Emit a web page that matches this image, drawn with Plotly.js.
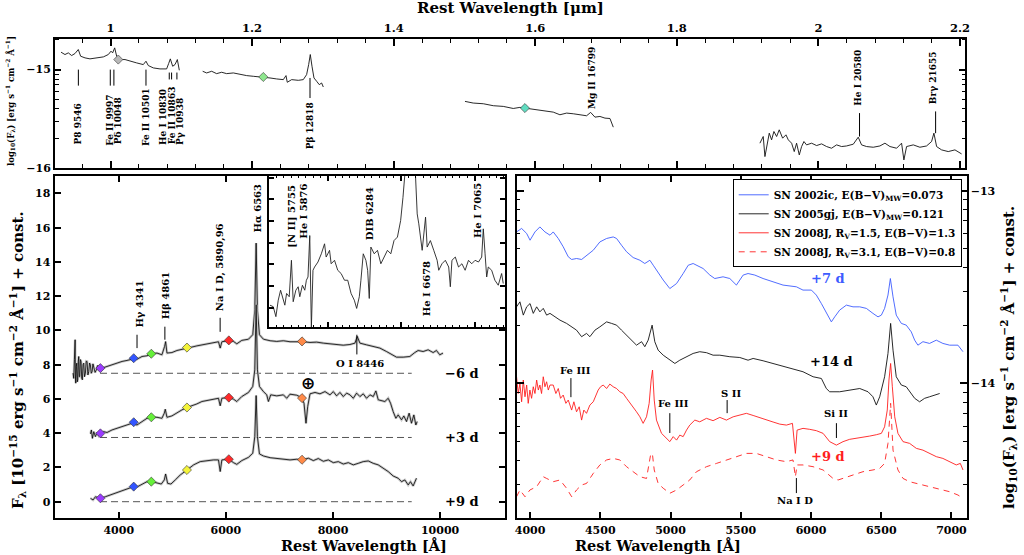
<!DOCTYPE html>
<html><head><meta charset="utf-8">
<script src="https://cdn.plot.ly/plotly-3.0.1.min.js"></script>
<style>html,body{margin:0;padding:0;background:#fff}#chart{width:1024px;height:555px}</style>
</head><body><div id="chart"></div>
<script>
// ================= DATA =================
// --- NIR spectrum (top panel), wavelength in micron, log10 flux ---
const nirWave1 = [0.9301,0.9357,0.9404,0.9451,0.9498,0.9545,0.9578,0.9640,0.9710,0.9804,0.9899,0.9969,1.0007,1.0030,1.0059,1.0087,1.0134,1.0205,1.0275,1.0369,1.0463,1.0501,1.0534,1.0605,1.0699,1.0793,1.0821,1.0845,1.0878,1.0911,1.0944,1.0972];
const nirLogF1 = [-14.823,-14.847,-14.830,-14.857,-14.837,-14.796,-14.864,-14.881,-14.891,-14.884,-14.871,-14.847,-14.813,-14.830,-14.779,-14.864,-14.898,-14.898,-14.915,-14.932,-14.949,-14.915,-14.959,-14.983,-14.993,-14.993,-14.939,-14.891,-14.966,-14.949,-14.898,-15.007];
const nirWave2 = [1.1302,1.1358,1.1429,1.1499,1.1570,1.1640,1.1735,1.1829,1.1923,1.2017,1.2158,1.2253,1.2347,1.2441,1.2479,1.2497,1.2559,1.2653,1.2723,1.2770,1.2799,1.2822,1.2846,1.2874,1.2912,1.2949,1.2982,1.3006];
const nirLogF2 = [-15.017,-15.034,-15.017,-15.041,-15.027,-15.041,-15.034,-15.051,-15.061,-15.068,-15.075,-15.085,-15.095,-15.102,-15.061,-15.129,-15.102,-15.109,-15.102,-15.051,-14.949,-14.847,-14.966,-15.085,-15.119,-15.153,-15.136,-15.177];
const nirWave3 = [1.5007,1.5124,1.5266,1.5407,1.5548,1.5595,1.5689,1.5783,1.5854,1.5972,1.6113,1.6254,1.6348,1.6443,1.6537,1.6631,1.6725,1.6782,1.6843,1.6913,1.6984,1.7055,1.7102];
const nirLogF3 = [-15.323,-15.340,-15.347,-15.367,-15.374,-15.381,-15.395,-15.384,-15.391,-15.408,-15.418,-15.432,-15.459,-15.442,-15.449,-15.459,-15.469,-15.435,-15.483,-15.476,-15.493,-15.497,-15.585];
const nirWave4 = [1.9173,1.9220,1.9244,1.9267,1.9305,1.9338,1.9371,1.9409,1.9446,1.9494,1.9541,1.9574,1.9621,1.9658,1.9691,1.9729,1.9762,1.9795,1.9832,1.9903,1.9974,2.0044,2.0115,2.0185,2.0256,2.0327,2.0397,2.0492,2.0529,2.0562,2.0609,2.0680,2.0774,2.0868,2.0939,2.1010,2.1104,2.1174,2.1207,2.1245,2.1339,2.1433,2.1527,2.1598,2.1631,2.1669,2.1739,2.1833,2.1928,2.2022];
const nirLogF4 = [-15.748,-15.680,-15.884,-15.782,-15.646,-15.714,-15.629,-15.680,-15.612,-15.697,-15.663,-15.714,-15.748,-15.833,-15.748,-15.867,-15.782,-15.731,-15.765,-15.748,-15.772,-15.755,-15.782,-15.799,-15.765,-15.782,-15.776,-15.758,-15.714,-15.687,-15.765,-15.782,-15.789,-15.776,-15.748,-15.782,-15.799,-15.748,-15.918,-15.782,-15.765,-15.789,-15.776,-15.731,-15.646,-15.782,-15.816,-15.833,-15.816,-15.857];
const nirPhotWave = [1.0110, 1.2158, 1.5854];
const nirPhotLogF = [-14.898, -15.075, -15.391];
const nirPhotColor = ['#b8b8b8', '#8fe88f', '#5fdcc0'];
const nirLineText = ['P8 9546','Fe II 9997','Pδ 10048','Fe II 10501','He I 10830','Fe II 10863','Pγ 10938','Pβ 12818','Mg II 16799','He I 20580','Brγ 21655'];
const nirMarkWave = [0.9546, 0.9997, 1.0048, 1.0501, 1.0830, 1.0863, 1.0938, 1.2818, 2.0580, 2.1655];

// --- Optical spectra (left panel), Angstrom, flux + offset ---
const m6Wave = [3147,3160,3172,3185,3190,3197,3207,3216,3225,3234,3244,3253,3262,3272,3284,3296,3308,3321,3333,3346,3360,3377,3392,3408,3424,3439,3455,3470,3486,3502,3518,3533,3558,3582,3604,3626,3657,3688,3781,3874,3968,4061,4154,4247,4340,4434,4527,4620,4713,4806,4856,4875,4900,4993,5086,5179,5272,5365,5459,5552,5645,5769,5862,5894,5925,6049,6142,6204,6297,6422,6502,6540,6565,6589,6627,6701,6826,6950,7074,7198,7323,7447,7571,7695,7820,7944,8068,8192,8317,8410,8453,8503,8627,8752,8876,9000,9093,9186,9311,9435,9528,9590,9684,9777,9870,9932,9994,10056];
const m6Flux = [7.51,7.2,8.29,9.46,7.4,6.92,7.9,8.09,7.0,7.12,8.2,8.48,7.3,7.31,8.3,8.19,7.2,7.12,8.0,8.09,7.3,7.51,8.2,8.19,7.4,7.6,8.1,7.99,7.5,7.6,8.05,7.9,7.55,7.7,7.95,7.86,7.7,7.8,7.9,7.99,8.09,8.19,8.25,8.32,8.32,8.48,8.52,8.64,8.68,8.58,9.07,9.35,8.68,8.71,8.83,8.91,8.97,9.03,9.1,9.16,9.22,9.3,9.34,8.97,9.34,9.4,9.36,9.22,9.42,9.49,9.75,11.2,15.1,11.2,9.75,9.49,9.4,9.36,9.4,9.34,9.36,9.34,9.3,9.32,9.26,9.22,9.16,9.14,9.18,9.26,9.65,9.26,9.16,9.07,8.97,8.77,8.58,8.44,8.44,8.48,8.71,8.83,8.77,8.87,8.71,8.83,8.58,8.68];
const p3Wave = [3471,3489,3508,3533,3564,3595,3626,3657,3719,3781,3874,3968,4061,4154,4247,4340,4434,4527,4620,4713,4806,4850,4868,4900,4993,5086,5179,5272,5365,5459,5552,5645,5769,5862,5894,5925,6049,6142,6204,6297,6422,6502,6540,6565,6589,6627,6701,6763,6794,6838,6950,7074,7136,7198,7323,7416,7459,7496,7528,7571,7664,7757,7851,7944,8006,8068,8130,8192,8255,8317,8379,8441,8503,8565,8627,8690,8752,8801,8845,8907,8969,9031,9075,9124,9174,9217,9280,9323,9373,9422,9466,9510,9547,9572];
const p3Flux = [3.96,4.19,3.7,4.09,3.8,4.04,3.84,3.96,4.09,4.04,4.19,4.29,4.39,4.48,4.58,4.48,4.68,4.87,4.93,4.93,4.87,5.17,5.4,4.93,5.01,5.21,5.36,5.5,5.6,5.71,5.85,5.91,5.99,6.04,5.6,6.04,6.08,5.99,5.85,6.14,6.38,6.73,7.7,11.5,7.7,6.73,6.43,6.24,5.85,6.24,6.18,6.24,6.04,6.28,6.22,6.08,5.75,4.58,5.56,6.3,6.38,6.3,6.43,6.24,6.43,6.18,6.38,6.14,6.34,6.24,6.04,6.34,6.14,6.3,6.04,6.24,6.14,6.47,5.95,5.91,5.85,6.04,5.75,5.26,4.87,5.07,4.78,5.01,4.68,5.17,4.58,5.07,4.48,4.68];
const p9Wave = [3471,3520,3564,3657,3750,3843,3936,4030,4123,4216,4278,4352,4434,4527,4620,4713,4794,4850,4875,4912,4974,5055,5148,5272,5397,5521,5645,5769,5862,5894,5925,6055,6142,6204,6297,6422,6502,6540,6565,6589,6627,6701,6826,6950,7074,7198,7323,7428,7540,7633,7726,7820,7913,8006,8099,8192,8286,8379,8472,8565,8658,8752,8845,8938,9031,9124,9217,9280,9342,9404,9447,9497,9528,9559];
const p9Flux = [0.2,0.1,0.29,0.2,0.29,0.39,0.49,0.59,0.72,0.82,0.88,0.88,1.03,1.17,1.17,1.11,1.03,1.27,1.62,1.07,1.03,1.27,1.56,1.85,2.15,2.34,2.4,2.44,2.44,1.76,2.44,2.48,2.28,2.18,2.4,2.59,2.83,3.8,6.2,3.8,2.79,2.67,2.57,2.54,2.48,2.44,2.48,2.44,2.54,2.4,2.52,2.36,2.44,2.28,2.34,2.2,2.28,2.15,2.24,2.34,2.38,2.24,2.15,1.95,1.76,1.5,1.37,1.17,1.27,0.98,1.17,0.92,1.17,1.37];
const photWave = [3657, 4279, 4608, 5273, 6055, 7422];
const photFluxM6 = [7.8, 8.38, 8.64, 9.0, 9.42, 9.36];
const photFluxP3 = [3.99, 4.64, 4.93, 5.5, 6.08, 6.05];
const photFluxP9 = [0.2, 0.88, 1.17, 1.85, 2.48, 2.45];
const photColors = ['#9a3cff', '#3355ff', '#66f03a', '#f4f43a', '#ff2a2a', '#ff8a48'];
const epochOffsets = [7.5, 3.75, 0];
const epochLabels = ['−6 d', '+3 d', '+9 d'];
const optTickVals = [4000, 6000, 8000, 10000];
const optTickText = ['4000', '6000', '8000', '10000'];
const optLineText = ['Hγ 4341', 'Hβ 4861', 'Na I D, 5890,96', 'Hα 6563'];
const optMarkWave = [4341, 4861, 5893, 8446];

// --- Inset (zoom around Halpha of -6 d spectrum) ---
const insetWave = [5605,5627,5645,5661,5677,5695,5706,5718,5736,5751,5763,5781,5797,5808,5826,5842,5853,5864,5876,5887,5898,5909,5932,5955,5977,5988,6011,6022,6045,6067,6090,6113,6135,6158,6180,6196,6214,6225,6241,6259,6271,6282,6293,6316,6338,6361,6383,6406,6429,6451,6474,6496,6512,6526,6541,6564,6587,6598,6609,6620,6643,6654,6666,6677,6699,6722,6745,6756,6778,6801,6824,6835,6846,6869,6891,6914,6936,6959,6981,7004,7027,7049,7060,7072,7083,7094,7117,7139,7162,7185,7196];
const insetFlux = [0.12,0.05,-0.41,0.35,0.81,0.35,0.12,0.66,0.51,2.19,0.28,0.81,0.97,0.51,1.04,0.81,1.27,1.42,3.33,-0.95,1.73,1.88,2.11,2.49,2.95,2.34,2.65,2.03,2.19,1.73,1.58,1.27,1.27,0.66,0.35,-0.03,0.51,1.27,2.49,2.19,1.73,0.43,2.80,2.49,2.65,2.03,2.34,2.65,2.49,3.10,3.26,4.02,5.09,6.01,6.93,9.4,6.93,6.01,4.33,3.87,2.65,3.26,4.18,2.80,3.10,2.65,2.19,1.73,2.03,2.19,1.88,0.97,2.19,2.34,1.88,2.03,1.73,2.19,2.03,2.19,2.11,2.34,3.64,2.49,1.42,1.88,1.73,1.27,1.04,1.58,1.12];
const insetLineText = ['[N II] 5755', 'He I 5876', 'DIB 6284', 'He I 6678', 'He I 7065'];
const insetLineWave = [5755, 5876, 6284, 6678, 7065];

// --- Comparison spectra (right panel), log10 flux + const ---
const ic02Wave = [3904,3940,3976,4000,4035,4070,4106,4142,4165,4201,4236,4272,4296,4331,4367,4402,4450,4497,4545,4592,4616,4651,4687,4734,4782,4817,4853,4877,4900,4948,4995,5043,5090,5126,5161,5208,5232,5280,5315,5374,5422,5469,5517,5552,5600,5659,5730,5801,5896,5943,6003,6038,6074,6109,6145,6169,6204,6252,6299,6347,6394,6441,6477,6501,6524,6548,6565,6584,6607,6643,6678,6714,6738,6761,6797,6844,6892,6939,6987,7046,7082];
const ic02LogF = [-13.213,-13.195,-13.221,-13.256,-13.213,-13.187,-13.213,-13.230,-13.213,-13.247,-13.290,-13.342,-13.356,-13.351,-13.356,-13.334,-13.308,-13.265,-13.247,-13.239,-13.247,-13.282,-13.316,-13.346,-13.360,-13.377,-13.360,-13.386,-13.412,-13.463,-13.507,-13.481,-13.429,-13.386,-13.377,-13.394,-13.403,-13.437,-13.455,-13.446,-13.455,-13.489,-13.437,-13.429,-13.437,-13.455,-13.472,-13.489,-13.498,-13.515,-13.515,-13.541,-13.585,-13.636,-13.680,-13.654,-13.619,-13.593,-13.602,-13.602,-13.610,-13.636,-13.654,-13.645,-13.610,-13.541,-13.455,-13.550,-13.645,-13.688,-13.697,-13.732,-13.775,-13.801,-13.783,-13.792,-13.775,-13.792,-13.801,-13.801,-13.835];
const gj05Wave = [3904,3928,3952,3976,4000,4023,4047,4070,4094,4118,4142,4177,4213,4260,4296,4331,4367,4402,4426,4462,4497,4545,4580,4616,4651,4687,4722,4758,4794,4817,4841,4869,4888,4912,4948,4995,5031,5066,5114,5161,5208,5256,5303,5351,5422,5493,5552,5588,5659,5730,5801,5872,5943,6015,6074,6109,6133,6204,6275,6347,6406,6441,6465,6489,6524,6548,6567,6584,6607,6643,6678,6702,6738,6773,6809,6844,6880,6916];
const gj05LogF = [-13.602,-13.576,-13.645,-13.602,-13.585,-13.636,-13.602,-13.628,-13.610,-13.645,-13.636,-13.654,-13.671,-13.688,-13.706,-13.723,-13.757,-13.740,-13.757,-13.723,-13.706,-13.680,-13.688,-13.697,-13.723,-13.749,-13.775,-13.801,-13.783,-13.809,-13.775,-13.697,-13.783,-13.827,-13.853,-13.879,-13.896,-13.879,-13.861,-13.844,-13.835,-13.840,-13.853,-13.853,-13.861,-13.865,-13.879,-13.870,-13.882,-13.896,-13.913,-13.927,-13.939,-13.965,-13.974,-14.026,-14.043,-14.043,-14.034,-14.026,-14.043,-14.069,-14.112,-14.069,-13.965,-13.844,-13.688,-13.827,-13.965,-14.008,-14.017,-14.043,-14.077,-14.095,-14.077,-14.069,-14.060,-14.052];
const j08aWave = [3904,3916,3928,3940,3952,3964,3976,3987,3999,4011,4023,4035,4047,4059,4070,4082,4094,4106,4118,4130,4142,4165,4184,4201,4217,4236,4255,4272,4296,4312,4331,4350,4367,4383,4402,4426,4450,4469,4485,4502,4521,4545,4568,4592,4616,4639,4663,4687,4711,4734,4758,4782,4805,4829,4848,4862,4872,4884,4900,4936,4971,4995,5019,5043,5066,5090,5114,5137,5173,5208,5256,5303,5351,5398,5446,5493,5540,5588,5635,5683,5730,5778,5825,5868,5879,5889,5901,5943,5991,6038,6086,6133,6181,6228,6275,6323,6370,6418,6465,6501,6524,6543,6555,6567,6579,6596,6619,6655,6702,6750,6797,6844,6892,6939,6987,7034,7063,7082];
const j08aLogF = [-13.965,-14.052,-14.000,-14.095,-13.982,-14.069,-14.008,-14.103,-14.034,-14.077,-14.017,-14.052,-13.982,-14.034,-14.008,-14.052,-13.965,-14.017,-13.991,-14.034,-14.008,-14.008,-14.052,-14.026,-14.077,-14.060,-14.103,-14.086,-14.138,-14.095,-14.147,-14.121,-14.190,-14.138,-14.155,-14.112,-14.095,-14.060,-14.034,-14.017,-14.008,-14.026,-14.003,-14.017,-14.026,-14.043,-14.052,-14.077,-14.103,-14.121,-14.147,-14.173,-14.207,-14.173,-14.103,-13.982,-13.930,-14.086,-14.190,-14.259,-14.285,-14.302,-14.276,-14.294,-14.268,-14.276,-14.242,-14.216,-14.190,-14.199,-14.181,-14.193,-14.176,-14.190,-14.173,-14.164,-14.155,-14.166,-14.176,-14.190,-14.200,-14.211,-14.216,-14.207,-14.276,-14.363,-14.242,-14.233,-14.238,-14.245,-14.259,-14.302,-14.320,-14.302,-14.290,-14.285,-14.280,-14.273,-14.266,-14.259,-14.225,-14.138,-13.982,-13.896,-14.017,-14.173,-14.259,-14.302,-14.311,-14.337,-14.346,-14.363,-14.380,-14.389,-14.406,-14.423,-14.415,-14.449];
const j08bWave = [3904,3928,3964,3999,4047,4094,4118,4165,4213,4260,4296,4331,4367,4402,4450,4497,4545,4592,4639,4687,4734,4782,4829,4848,4860,4872,4884,4912,4948,4995,5043,5090,5137,5185,5256,5327,5398,5469,5540,5611,5683,5754,5825,5872,5889,5901,5943,6015,6086,6157,6193,6228,6299,6370,6441,6489,6524,6548,6567,6584,6619,6655,6702,6797,6892,6987,7046,7082];
const j08bLogF = [-14.588,-14.553,-14.588,-14.553,-14.536,-14.484,-14.493,-14.510,-14.501,-14.544,-14.588,-14.553,-14.527,-14.519,-14.467,-14.423,-14.397,-14.389,-14.397,-14.432,-14.458,-14.484,-14.493,-14.423,-14.363,-14.372,-14.449,-14.519,-14.544,-14.570,-14.553,-14.527,-14.501,-14.458,-14.432,-14.415,-14.397,-14.380,-14.363,-14.363,-14.380,-14.397,-14.406,-14.397,-14.484,-14.423,-14.423,-14.432,-14.449,-14.493,-14.501,-14.493,-14.475,-14.458,-14.449,-14.441,-14.415,-14.311,-14.103,-14.346,-14.449,-14.493,-14.510,-14.527,-14.544,-14.562,-14.579,-14.596];
const compNames = ['SN 2002ic, E(B−V)<sub>MW</sub>=0.073', 'SN 2005gj, E(B−V)<sub>MW</sub>=0.121', 'SN 2008J, R<sub>V</sub>=1.5, E(B−V)=1.3', 'SN 2008J, R<sub>V</sub>=3.1, E(B−V)=0.8'];
const compEpochs = ['+7 d', '+14 d', '+9 d'];
const compLineText = ['Fe III', 'Fe III', 'S II', 'Si II', 'Na I D'];
const compMarkWave = [4291, 4995, 5403, 6181, 5896];

// ================= STYLE / BUILD =================
const FAM = 'DejaVu Serif, Liberation Serif, serif';
function F(size, color) { return {family: FAM, size: size, color: color || 'black', weight: 'bold'}; }
const BLUE = '#3d5cff', RED = '#ff1e1e';

function line(x, y, xa, ya, color, width, extra) {
  return Object.assign({type: 'scatter', mode: 'lines', x: x, y: y, xaxis: xa, yaxis: ya,
    line: {color: color, width: width}, showlegend: false, hoverinfo: 'skip'}, extra || {});
}
function marks(waves, y0, y1, xa, ya) {
  const x = [], y = [];
  waves.forEach((w, i) => { x.push(w, w, null); y.push(y0[i], y1[i], null); });
  return line(x, y, xa, ya, 'black', 1);
}
function diamonds(x, y, colors, xa, ya) {
  return {type: 'scatter', mode: 'markers', x: x, y: y, xaxis: xa, yaxis: ya, showlegend: false, hoverinfo: 'skip',
    marker: {symbol: 'diamond', size: 7, color: colors, line: {color: '#333', width: 0.6}}};
}

const traces = [];
// top panel
[[nirWave1, nirLogF1], [nirWave2, nirLogF2], [nirWave3, nirLogF3], [nirWave4, nirLogF4]].forEach(s => {
  traces.push(line(s[0], s[1], 'x', 'y', '#111', 0.9));
});
traces.push(marks(nirMarkWave,
  [-15.0, -15.0, -15.0, -15.0, -15.03, -15.03, -15.03, -15.085, -15.442, -15.425],
  [-15.163, -15.163, -15.163, -15.163, -15.10, -15.10, -15.10, -15.289, -15.680, -15.646], 'x', 'y'));
traces.push(diamonds(nirPhotWave, nirPhotLogF, nirPhotColor, 'x', 'y'));

// left panel
epochOffsets.forEach(o => {
  traces.push(line([3650, 9470], [o, o], 'x2', 'y2', '#555', 1, {line: {color: '#555', width: 1, dash: '7px,4px'}}));
});
[[m6Wave, m6Flux], [p3Wave, p3Flux], [p9Wave, p9Flux]].forEach(s => {
  traces.push(line(s[0], s[1], 'x2', 'y2', '#cacaca', 2.6));
  traces.push(line(s[0], s[1], 'x2', 'y2', '#000', 0.8));
});
traces.push(marks(optMarkWave, [8.97, 9.46, 9.92, 8.6], [9.75, 10.22, 10.74, 9.75], 'x2', 'y2'));
[photFluxM6, photFluxP3, photFluxP9].forEach(f => traces.push(diamonds(photWave, f, photColors, 'x2', 'y2')));

// inset
traces.push(line(insetWave, insetFlux, 'x3', 'y3', '#222', 0.9));

// right panel
const compStyles = [
  {x: ic02Wave, y: ic02LogF, line: {color: BLUE, width: 0.9}},
  {x: gj05Wave, y: gj05LogF, line: {color: '#111', width: 0.9}},
  {x: j08aWave, y: j08aLogF, line: {color: RED, width: 0.9}},
  {x: j08bWave, y: j08bLogF, line: {color: RED, width: 0.9, dash: '6px,5px'}}
];
compStyles.forEach((s, i) => {
  traces.push({type: 'scatter', mode: 'lines', x: s.x, y: s.y, xaxis: 'x4', yaxis: 'y4', line: s.line,
    name: compNames[i], showlegend: true, legendgroup: 'g' + i, hoverinfo: 'skip'});
});
traces.push(marks(compMarkWave, [-14.071, -14.257, -14.154, -14.283, -14.569], [-13.972, -14.154, -14.086, -14.206, -14.491], 'x4', 'y4'));

// ================= ANNOTATIONS =================
const ann = [];
function A(text, x, y, xref, yref, opt) { ann.push(Object.assign({text: text, x: x, y: y, xref: xref, yref: yref, showarrow: false, font: F(10)}, opt || {})); }
const V = {textangle: -90, yanchor: 'bottom', xanchor: 'center'};

// top-panel line IDs
const nirLabelX = [0.9546, 0.9993, 1.0110, 1.0511, 1.0732, 1.0864, 1.0981, 1.2822, 1.6810, 2.0553, 2.1622];
const nirLabelY = [-15.782, -15.799, -15.782, -15.799, -15.782, -15.782, -15.782, -15.833, -15.425, -15.391, -15.374];
nirLineText.forEach((t, i) => A(t, nirLabelX[i], nirLabelY[i], 'x', 'y', Object.assign({font: F(9)}, V)));

// left-panel line IDs
const optLabelX = [4384, 4888, 5894, 6597];
const optLabelY = [10.04, 10.53, 11.02, 15.6];
optLineText.forEach((t, i) => A(t, optLabelX[i], optLabelY[i], 'x2', 'y2', Object.assign({}, V)));
A('O I 8446', 8504, 8.09, 'x2', 'y2', {yanchor: 'middle'});
A('⊕', 7540, 6.92, 'x2', 'y2', {font: {family: 'DejaVu Sans', size: 17, color: 'black'}, yanchor: 'middle'});
epochLabels.forEach((t, i) => A(t, 10400, epochOffsets[i], 'x2', 'y2', {font: F(13), yanchor: 'middle'}));

// inset line IDs
const insetLabelY = [2.65, 3.1, 3.03, -0.49, 3.1];
const insetShift = [0, -7, 0, 0, -7];
insetLineText.forEach((t, i) => A(t, insetLineWave[i], insetLabelY[i], 'x3', 'y3', Object.assign({xshift: insetShift[i]}, V)));

// right-panel labels
const compLabelX = [4320, 5019, 5434, 6181, 5884];
const compLabelY = [-13.930, -14.103, -14.051, -14.155, -14.605];
compLineText.forEach((t, i) => A(t, compLabelX[i], compLabelY[i], 'x4', 'y4', {yanchor: 'middle'}));
A(compEpochs[0], 6121, -13.455, 'x4', 'y4', {font: F(13, BLUE), yanchor: 'middle'});
A(compEpochs[1], 6145, -13.887, 'x4', 'y4', {font: F(13), yanchor: 'middle'});
A(compEpochs[2], 6121, -14.380, 'x4', 'y4', {font: F(13, RED), yanchor: 'middle'});

// axis titles
A('Rest Wavelength [μm]', 510 / 1024, 1 - 8.5 / 555, 'paper', 'paper', {font: F(15), yanchor: 'middle'});
A('Rest Wavelength [Å]', 280 / 1024, 0, 'paper', 'paper', {font: F(14.5), yanchor: 'bottom', borderpad: 0});
A('Rest Wavelength [Å]', 741.6 / 1024, 0, 'paper', 'paper', {font: F(14.5), yanchor: 'bottom', borderpad: 0});
A('F<sub>λ</sub> [10<sup>−15</sup> erg s<sup>−1</sup> cm<sup>−2</sup> Å<sup>−1</sup>] + const.', 17 / 1024, 1 - 360 / 555, 'paper', 'paper',
  {font: F(15), textangle: -90, xanchor: 'center', yanchor: 'middle'});
A('log<sub>10</sub>(F<sub>λ</sub>) [erg s<sup>−1</sup> cm<sup>−2</sup> Å<sup>−1</sup>] + const.', 1008 / 1024, 1 - 358 / 555, 'paper', 'paper',
  {font: F(15), textangle: -90, xanchor: 'center', yanchor: 'middle'});
A('log<sub>10</sub>(F<sub>λ</sub>) [erg s<sup>−1</sup> cm<sup>−2</sup> Å<sup>−1</sup>]', 10 / 1024, 1 - 101 / 555, 'paper', 'paper',
  {font: F(8.5), textangle: -90, xanchor: 'center', yanchor: 'middle'});

// ================= LAYOUT =================
function logMinor(lo, hi) {
  const v = [];
  for (let d = Math.floor(lo); d <= Math.ceil(hi); d++) for (let k = 2; k <= 9; k++) { const t = d + Math.log10(k); if (t > lo && t < hi) v.push(t); }
  return v;
}
const base = {showline: true, linecolor: 'black', linewidth: 2, mirror: 'ticks', ticks: 'inside', tickcolor: 'black',
  tickwidth: 1.5, ticklen: 6, showgrid: false, zeroline: false, tickfont: F(11), exponentformat: 'none', separatethousands: false,
  fixedrange: true};
const minorBase = {ticks: 'inside', tickcolor: 'black', tickwidth: 1, ticklen: 3.5, showgrid: false};

const layout = {
  width: 1024, height: 555, margin: {l: 0, r: 0, t: 0, b: 0}, autosize: false,
  paper_bgcolor: 'white', plot_bgcolor: 'white', font: F(11), showlegend: true,
  xaxis: Object.assign({}, base, {domain: [55 / 1024, 965 / 1024], range: [0.9216, 2.207], side: 'top', tick0: 0, dtick: 0.2,
    tickfont: F(11.5), anchor: 'y', ticklen: 7, minor: Object.assign({}, minorBase, {tick0: 0, dtick: 0.04, ticklen: 4})}),
  yaxis: Object.assign({}, base, {domain: [1 - 168 / 555, 1 - 38.5 / 555], range: [-16, -14.684], tickmode: 'array',
    tickvals: [-16, -15], anchor: 'x', minor: Object.assign({}, minorBase, {tickmode: 'array', tickvals: logMinor(-16, -14.684)})}),
  xaxis2: Object.assign({}, base, {domain: [54.5 / 1024, 505 / 1024], range: [2800, 11212], tickmode: 'array',
    tickvals: optTickVals, ticktext: optTickText, anchor: 'y2'}),
  yaxis2: Object.assign({}, base, {domain: [1 - 518.3 / 555, 1 - 175.5 / 555], range: [-0.97, 19.05], tick0: 0, dtick: 2, anchor: 'x2'}),
  xaxis3: Object.assign({}, base, {domain: [269.3 / 1024, 505 / 1024], range: [5600, 7208], tick0: 0, dtick: 500, ticklen: 5,
    showticklabels: false, anchor: 'y3', minor: Object.assign({}, minorBase, {tick0: 0, dtick: 50, ticklen: 2.5})}),
  yaxis3: Object.assign({}, base, {domain: [1 - 327.3 / 555, 1 - 175.5 / 555], range: [-0.9, 6.1], tick0: 0, dtick: 1, ticklen: 5,
    showticklabels: false, anchor: 'x3'}),
  xaxis4: Object.assign({}, base, {domain: [516.7 / 1024, 966.5 / 1024], range: [3905, 7107], tick0: 0, dtick: 500, anchor: 'y4'}),
  yaxis4: Object.assign({}, base, {domain: [1 - 518.3 / 555, 1 - 175.5 / 555], range: [-14.70, -12.92], side: 'right',
    tickmode: 'array', tickvals: [-14, -13], anchor: 'x4', ticklen: 7,
    minor: Object.assign({}, minorBase, {tickmode: 'array', tickvals: logMinor(-14.70, -12.92)})}),
  legend: {x: 732.7 / 1024, y: 1 - 179.3 / 555, xanchor: 'left', yanchor: 'top', bgcolor: 'white', bordercolor: 'black',
    borderwidth: 1, font: F(10.5), tracegroupgap: 2, itemwidth: 30, traceorder: 'normal'},
  annotations: ann
};

Plotly.newPlot('chart', traces, layout, {displayModeBar: false});
</script>
</body></html>
